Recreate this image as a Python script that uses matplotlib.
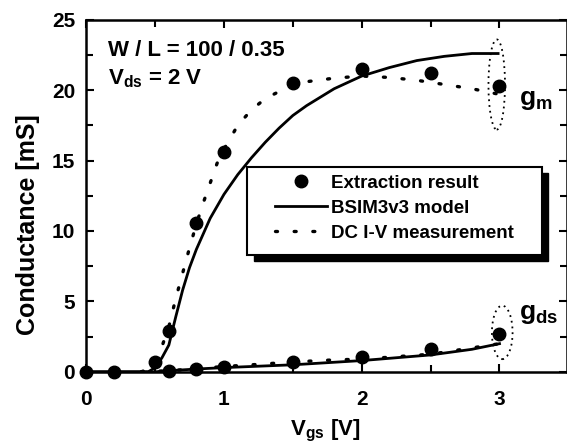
import numpy as np
import matplotlib
matplotlib.use("Agg")
import matplotlib.pyplot as plt
from matplotlib.patches import Ellipse, Rectangle
from matplotlib.lines import Line2D

# -----------------------------
# Data
# -----------------------------
# extraction result (dots)
vgs_gm_pts = [0.0, 0.2, 0.5, 0.6, 0.8, 1.0, 1.5, 2.0, 2.5, 3.0]
gm_pts = [0.0, 0.0, 0.7, 2.9, 10.6, 15.6, 20.5, 21.5, 21.2, 20.3]
vgs_gds_pts = [0.6, 0.8, 1.0, 1.5, 2.0, 2.5, 3.0]
gds_pts = [0.05, 0.2, 0.35, 0.72, 1.08, 1.62, 2.72]

# BSIM3v3 model (solid)
vgs_model = [0.0, 0.45, 0.5, 0.55, 0.6, 0.65, 0.7, 0.75, 0.8, 0.85, 0.9, 1.0,
             1.1, 1.2, 1.3, 1.4, 1.5, 1.6, 1.8, 2.0, 2.2, 2.4, 2.6, 2.8, 3.0]
gm_model = [0.0, 0.0, 0.3, 1.0, 1.9, 3.9, 5.8, 7.4, 8.7, 9.8, 10.9, 12.6,
            14.0, 15.2, 16.3, 17.3, 18.2, 18.9, 20.1, 21.0, 21.6, 22.1, 22.4, 22.6, 22.6]
vgs_gds_model = [0.0, 0.5, 0.6, 0.8, 1.0, 1.5, 2.0, 2.5, 2.8, 3.0]
gds_model = [0.0, 0.0, 0.08, 0.2, 0.3, 0.5, 0.8, 1.2, 1.6, 2.0]

# DC I-V measurement (dotted)
vgs_meas = [0.4, 0.45, 0.5, 0.55, 0.6, 0.65, 0.7, 0.75, 0.8, 0.85, 0.9, 0.95, 1.0,
            1.1, 1.2, 1.3, 1.4, 1.5, 1.6, 1.8, 2.0, 2.2, 2.4, 2.6, 2.8, 3.0]
gm_meas = [0.0, 0.2, 0.7, 1.8, 3.2, 5.2, 7.0, 8.8, 10.5, 12.0, 13.4, 14.8, 15.8,
           17.5, 18.6, 19.4, 19.9, 20.3, 20.6, 20.85, 21.0, 20.9, 20.7, 20.4, 20.1, 19.7]
vgs_gds_meas = [0.4, 0.6, 0.8, 1.0, 1.2, 1.5, 1.8, 2.0, 2.5, 3.0]
gds_meas = [0.0, 0.08, 0.22, 0.38, 0.5, 0.7, 0.85, 0.9, 1.25, 2.0]

# -----------------------------
# Style
# -----------------------------
plt.rcParams['font.family'] = ['Liberation Sans', 'DejaVu Sans']
plt.rcParams['font.weight'] = 'bold'
plt.rcParams['mathtext.fontset'] = 'custom'
plt.rcParams['mathtext.rm'] = 'Liberation Sans:bold'
plt.rcParams['mathtext.it'] = 'Liberation Sans:bold'
plt.rcParams['mathtext.bf'] = 'Liberation Sans:bold'

fig = plt.figure(figsize=(5.67, 4.48), dpi=100)
ax = fig.add_axes([0.152, 0.17, 0.848, 0.786])

dotted = (0, (0.6, 5.0))

ax.plot(vgs_model, gm_model, color='black', lw=2.0, solid_capstyle='butt')
ax.plot(vgs_gds_model, gds_model, color='black', lw=2.0)
ax.plot(vgs_meas, gm_meas, color='black', lw=2.4, linestyle=dotted,
        dash_capstyle='round')
ax.plot(vgs_gds_meas, gds_meas, color='black', lw=2.4, linestyle=dotted,
        dash_capstyle='round')
ax.plot(vgs_gm_pts, gm_pts, 'o', color='black', ms=9, clip_on=False, zorder=5)
ax.plot(vgs_gds_pts, gds_pts, 'o', color='black', ms=9, clip_on=False, zorder=5)

# dotted ellipses around the 3 V points
ax.add_patch(Ellipse((2.98, 20.4), 0.12, 6.4, fill=False, ec='black',
                     lw=1.3, linestyle=(0, (1, 2.2))))
ax.add_patch(Ellipse((3.02, 2.8), 0.15, 3.8, fill=False, ec='black',
                     lw=1.3, linestyle=(0, (1, 2.2))))

ax.text(3.14, 19.3, r'g$_{\rm m}$', fontsize=19, fontweight='bold', va='center')
ax.text(3.14, 4.1, r'g$_{\rm ds}$', fontsize=19, fontweight='bold', va='center')
ax.text(0.16, 22.4, 'W / L = 100 / 0.35', fontsize=16, fontweight='bold', va='baseline')
ax.text(0.16, 20.4, r'V$_{\rm ds}$ = 2 V', fontsize=16, fontweight='bold', va='baseline')

ax.set_xlim(0, 3.49)
ax.set_ylim(0, 25)
ax.set_xticks([0, 1, 2, 3])
ax.set_xticks([0.5, 1.5, 2.5], minor=True)
ax.set_yticks([0, 5, 10, 15, 20, 25])
ax.set_yticks([2.5, 7.5, 12.5, 17.5, 22.5], minor=True)
ax.tick_params(which='both', direction='in', top=True, right=True, width=1.5)
ax.tick_params(which='major', length=6, labelsize=15)
ax.tick_params(which='minor', length=5)
ax.tick_params(axis='x', pad=13)
ax.tick_params(axis='y', pad=8)
for lab in ax.get_xticklabels() + ax.get_yticklabels():
    lab.set_fontweight('bold')
for s in ax.spines.values():
    s.set_linewidth(1.8)

ax.set_xlabel(r'V$_{\rm gs}$ [V]', fontsize=16, fontweight='bold')
ax.xaxis.set_label_coords(0.497, -0.13)
ax.set_ylabel('Conductance [mS]', fontsize=18, fontweight='bold')
ax.yaxis.set_label_coords(-0.096, 0.418)

# legend box with a drop shadow
bx, by, bw, bh = 0.335, 0.332, 0.613, 0.25
ax.add_patch(Rectangle((bx + 0.013, by - 0.018), bw, bh, transform=ax.transAxes,
                       facecolor='black', edgecolor='black', zorder=6))
ax.add_patch(Rectangle((bx, by), bw, bh, transform=ax.transAxes,
                       facecolor='white', edgecolor='black', lw=1.5, zorder=7))

handles = [
    Line2D([], [], color='black', marker='o', ms=9, linestyle='none'),
    Line2D([], [], color='black', lw=2.0),
    Line2D([], [], color='black', lw=2.4, linestyle=dotted, dash_capstyle='round'),
]
labels = ['Extraction result', 'BSIM3v3 model', 'DC I-V measurement']
leg = ax.legend(handles, labels, loc='upper left', bbox_to_anchor=(0.393, 0.56),
                frameon=False, borderpad=0, borderaxespad=0, handlelength=2.77,
                handletextpad=0.2, labelspacing=0.42,
                prop={'family': 'Liberation Sans', 'weight': 'bold', 'size': 13.5})
leg.set_zorder(8)

fig.savefig('out.png', dpi=100)
